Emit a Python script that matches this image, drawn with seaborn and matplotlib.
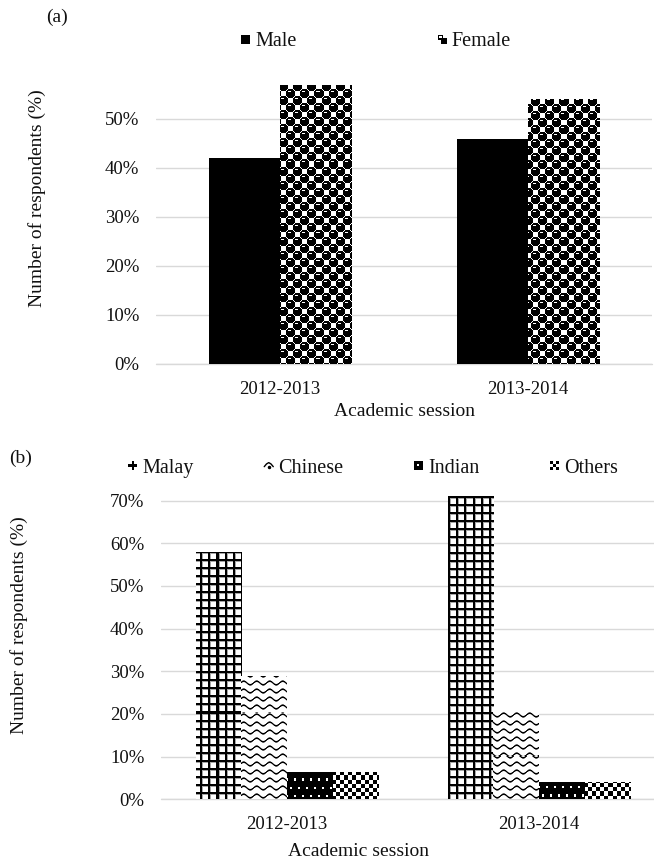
import numpy as np
import pandas as pd
import matplotlib
matplotlib.use("Agg")
import matplotlib.pyplot as plt
import seaborn as sns
from matplotlib.patches import Rectangle
from matplotlib.lines import Line2D
from matplotlib.legend_handler import HandlerBase
from matplotlib.ticker import FixedLocator, FuncFormatter

# ---- data -------------------------------------------------------------
sessions = ["2012-2013", "2013-2014"]

gender_levels = ["Male", "Female"]
male_pct = [42, 46]
female_pct = [57, 54]

ethnic_levels = ["Malay", "Chinese", "Indian", "Others"]
malay_pct = [58, 71]
chinese_pct = [29, 21]
indian_pct = [6.5, 4]
others_pct = [6.5, 4]

gender_ticks = [0, 10, 20, 30, 40, 50]
ethnic_ticks = [0, 10, 20, 30, 40, 50, 60, 70]

gender_df = pd.DataFrame({
    "session": sessions * 2,
    "group": [g for g in gender_levels for _ in sessions],
    "pct": male_pct + female_pct,
})
ethnic_df = pd.DataFrame({
    "session": sessions * 4,
    "group": [g for g in ethnic_levels for _ in sessions],
    "pct": malay_pct + chinese_pct + indian_pct + others_pct,
})

# ---- style ------------------------------------------------------------
sns.set_theme(style="white")
plt.rcParams["font.family"] = ["Liberation Serif", "DejaVu Serif"]
INK = "#111111"
GRID = "#d9d9d9"

W, H = 654, 860
fig = plt.figure(figsize=(W / 100, H / 100), dpi=100)


def box(left, right, bottom, top):
    """Pixel box (measured from the top-left corner) to figure fractions."""
    return [left / W, 1 - bottom / H, (right - left) / W, (bottom - top) / H]


ax_a = fig.add_axes(box(156, 652, 364, 364 - 60 * 4.9))
ax_b = fig.add_axes(box(161, 665, 799.3, 799.3 - 75 * 4.266))


# ---- fill textures (one repeating tile per pattern) --------------------
def tile_balls():
    n = 14
    yy, xx = np.mgrid[0:n, 0:n] + 0.5
    t = np.ones((n, n))
    for cy, cx in [(3.5, 3.5), (10.5, 10.5)]:
        d = np.full((n, n), np.inf)
        for sy in (-n, 0, n):
            for sx in (-n, 0, n):
                d = np.minimum(d, np.hypot(yy - cy - sy, xx - cx - sx))
        t[d <= 4.7] = 0
    for cy, cx in [(3, 3), (10, 10)]:
        t[cy - 2, cx - 2:cx + 1] = 1
    return t


def tile_grid():
    t = np.ones((8, 8))
    t[:2, :] = 0
    t[:, :2] = 0
    t[2, 2:] = 0.65
    t[2:, 2] = 0.65
    return t


def tile_wave():
    w, h = 13, 8
    yy, xx = np.mgrid[0:h, 0:w] + 0.5
    centre = h / 2 + 1.8 * np.sin(2 * np.pi * xx / w)
    return np.clip(np.abs(yy - centre) - 0.35, 0, 1)


def tile_dots():
    t = np.zeros((16, 8))
    t[3:5, 2:4] = 1
    t[11:13, 6:8] = 1
    return t


def tile_checker():
    yy, xx = np.mgrid[0:8, 0:8]
    return ((yy // 4 + xx // 4) % 2).astype(float)


textures = {
    "Male": None,
    "Female": tile_balls(),
    "Malay": tile_grid(),
    "Chinese": tile_wave(),
    "Indian": tile_dots(),
    "Others": tile_checker(),
}
face = {k: ("black" if v is None else "white") for k, v in textures.items()}


def fill_with_texture(ax, patch, tile):
    x0, y0 = patch.get_x(), patch.get_y()
    p0 = ax.transData.transform((x0, y0))
    p1 = ax.transData.transform((x0 + patch.get_width(), y0 + patch.get_height()))
    qx0, qx1 = np.floor(min(p0[0], p1[0])), np.ceil(max(p0[0], p1[0]))
    qy0, qy1 = np.floor(min(p0[1], p1[1])), np.ceil(max(p0[1], p1[1]))
    nx, ny = int(qx1 - qx0), int(qy1 - qy0)
    th, tw = tile.shape
    ox, oy = int(qx0) % tw, int(H - qy1) % th
    big = np.tile(tile, (ny // th + 3, nx // tw + 3))
    img = big[oy:oy + ny, ox:ox + nx]
    inv = ax.transData.inverted()
    d0 = inv.transform((qx0, qy0))
    d1 = inv.transform((qx1, qy1))
    im = ax.imshow(img, cmap="gray", vmin=0, vmax=1, interpolation="nearest",
                   origin="upper", aspect="auto",
                   extent=(d0[0], d1[0], d0[1], d1[1]),
                   zorder=patch.get_zorder() + 0.1)
    im.set_clip_path(patch)


# ---- legend swatches ----------------------------------------------------
class Swatch:
    def __init__(self, kind):
        self.kind = kind


class SwatchHandler(HandlerBase):
    def create_artists(self, legend, orig_handle, xdescent, ydescent,
                       width, height, fontsize, trans):
        s = min(width, height)
        x0 = -xdescent + (width - s) / 2
        y0 = -ydescent + (height - s) / 2
        k = orig_handle.kind
        arts = []

        def rect(u, v, du, dv, color):
            arts.append(Rectangle((x0 + u * s, y0 + v * s), du * s, dv * s,
                                  facecolor=color, edgecolor="none", transform=trans))

        if k == "solid":
            rect(0, 0, 1, 1, "black")
        elif k == "balls":
            rect(0, 0, 1, 1, "black")
            rect(0, 0, 0.4, 0.4, "white")
            rect(0.6, 0.6, 0.4, 0.4, "white")
            rect(0.15, 0.7, 0.3, 0.12, "white")
        elif k == "plus":
            rect(0, 0.37, 1, 0.26, "black")
            rect(0.37, 0, 0.26, 1, "black")
        elif k == "wave":
            xs = x0 + s * np.array([0.0, 0.25, 0.5, 0.75, 1.0])
            ys = y0 + s * np.array([0.35, 0.65, 0.8, 0.65, 0.35])
            arts.append(Line2D(xs, ys, color="black", lw=1.0, transform=trans))
            arts.append(Line2D([x0 + 0.5 * s], [y0 + 0.3 * s], marker="o", ms=1.5,
                               color="black", transform=trans))
        elif k == "dot":
            rect(0, 0, 1, 1, "black")
            rect(0.35, 0.45, 0.25, 0.25, "white")
        elif k == "checker":
            for i in range(3):
                for j in range(3):
                    if (i + j) % 2 == 0:
                        rect(i / 3, j / 3, 1 / 3, 1 / 3, "black")
        return arts


swatch_kind = {"Male": "solid", "Female": "balls", "Malay": "plus",
               "Chinese": "wave", "Indian": "dot", "Others": "checker"}


# ---- panels ---------------------------------------------------------------
def draw_panel(ax, df, levels, width, ymax, ticks):
    sns.barplot(data=df, x="session", y="pct", hue="group", order=sessions,
                hue_order=levels, palette=[face[l] for l in levels],
                width=width, gap=0, linewidth=0, saturation=1,
                errorbar=None, legend=False, ax=ax)
    ax.set_xlim(-0.5, 1.5)
    ax.set_ylim(0, ymax)
    ax.set_autoscale_on(False)
    ax.yaxis.set_major_locator(FixedLocator(ticks))
    ax.yaxis.set_major_formatter(FuncFormatter(lambda v, _: f"{v:.0f}%"))
    ax.grid(axis="y", color=GRID, linewidth=1.0)
    ax.grid(axis="x", visible=False)
    ax.set_axisbelow(True)
    ax.axhline(0, color=GRID, linewidth=1.0, clip_on=False, zorder=0.5)
    for sp in ax.spines.values():
        sp.set_visible(False)
    ax.tick_params(length=0, labelsize=13.5, pad=12, colors=INK)
    ax.set_xlabel("Academic session", fontsize=14, color=INK)
    ax.set_ylabel("Number of respondents (%)", fontsize=14, color=INK, va="center")
    for level, cont in zip(levels, ax.containers):
        tile = textures[level]
        for bar in cont:
            if tile is not None:
                fill_with_texture(ax, bar, tile)


draw_panel(ax_a, gender_df, gender_levels, 0.573, 60, gender_ticks)
draw_panel(ax_b, ethnic_df, ethnic_levels, 0.725, 75, ethnic_ticks)

# axis-title placement
ax_a.xaxis.set_label_coords(0.5, -39 / 294)
ax_a.yaxis.set_label_coords((37 - 156) / 496, (364 - 198) / 294)
ax_b.xaxis.set_label_coords((358 - 161) / 504, -44 / 320)
ax_b.yaxis.set_label_coords((19 - 161) / 504, (799.3 - 625) / 320)

# legends
hmap = {Swatch: SwatchHandler()}
common = dict(frameon=False, loc="center", bbox_transform=fig.transFigure,
              handlelength=0.45, handleheight=0.45, handletextpad=0.25,
              borderpad=0, borderaxespad=0, prop={"size": 14.5})
leg_a = ax_a.legend([Swatch(swatch_kind[l]) for l in gender_levels], gender_levels,
                    handler_map=hmap, ncol=2, columnspacing=7.0,
                    bbox_to_anchor=(376 / W, 1 - 42 / H), **common)
leg_b = ax_b.legend([Swatch(swatch_kind[l]) for l in ethnic_levels], ethnic_levels,
                    handler_map=hmap, ncol=4, columnspacing=3.5,
                    bbox_to_anchor=(373 / W, 1 - 468 / H), **common)
for leg in (leg_a, leg_b):
    for txt in leg.get_texts():
        txt.set_color(INK)

# panel tags
fig.text(46 / W, 1 - 17 / H, "(a)", fontsize=14, color=INK, ha="left", va="center")
fig.text(9 / W, 1 - 458 / H, "(b)", fontsize=14, color=INK, ha="left", va="center")

fig.savefig("out.png", dpi=100, facecolor="white")
